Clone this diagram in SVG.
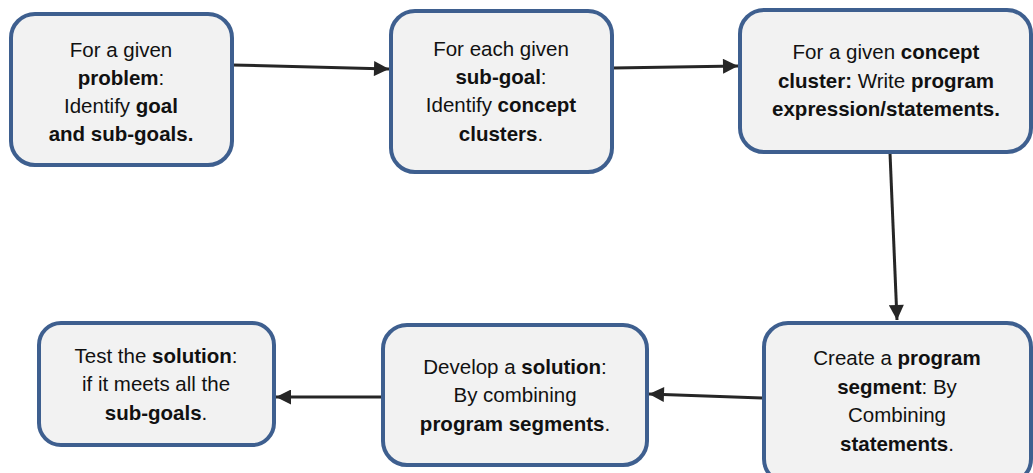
<svg xmlns="http://www.w3.org/2000/svg" width="1033" height="473" viewBox="0 0 1033 473">
<style>
.box{fill:#f2f2f2;stroke:#3e5f8f;stroke-width:4}
.t{font-family:"Liberation Sans",Arial,sans-serif;font-size:20.5px;fill:#111;text-anchor:middle}
.b{font-weight:bold}
.c{stroke:#262626;stroke-width:3;fill:none;marker-end:url(#ah)}
</style>
<defs>
<marker id="ah" viewBox="0 0 10 10" refX="10" refY="5" markerWidth="5.3" markerHeight="5" orient="auto" markerUnits="strokeWidth">
<path d="M0,0 L10,5 L0,10 z" fill="#262626"/>
</marker>
</defs>
<rect width="1033" height="473" fill="#fff"/>
<g id="connectors">
<line class="c" x1="232" y1="65" x2="389" y2="69"/>
<line class="c" x1="613" y1="68" x2="738" y2="66"/>
<line class="c" x1="890" y1="153" x2="897" y2="320"/>
<line class="c" x1="762" y1="398" x2="649" y2="394"/>
<line class="c" x1="381" y1="397" x2="276" y2="397"/>
</g>
<g id="n1">
<rect class="box" x="11" y="14" width="221" height="151" rx="24"/>
<text class="t" x="121" y="57">For a given</text>
<text class="t" x="121" y="85"><tspan class="b">problem</tspan>:</text>
<text class="t" x="121" y="113">Identify <tspan class="b">goal</tspan></text>
<text class="t" x="121" y="141"><tspan class="b">and sub-goals.</tspan></text>
</g>
<g id="n2">
<rect class="box" x="391" y="11" width="221" height="161" rx="24"/>
<text class="t" x="501" y="56">For each given</text>
<text class="t" x="501" y="84"><tspan class="b">sub-goal</tspan>:</text>
<text class="t" x="501" y="112">Identify <tspan class="b">concept</tspan></text>
<text class="t" x="501" y="141"><tspan class="b">clusters</tspan>.</text>
</g>
<g id="n3">
<rect class="box" x="740" y="10" width="291" height="142" rx="24"/>
<text class="t" x="886" y="59">For a given <tspan class="b">concept</tspan></text>
<text class="t" x="886" y="88"><tspan class="b">cluster:</tspan> Write <tspan class="b">program</tspan></text>
<text class="t" x="886" y="116"><tspan class="b">expression/statements.</tspan></text>
</g>
<g id="n4">
<rect class="box" x="764" y="323" width="267" height="160" rx="24"/>
<text class="t" x="897" y="365">Create a <tspan class="b">program</tspan></text>
<text class="t" x="897" y="394"><tspan class="b">segment</tspan>: By</text>
<text class="t" x="897" y="422">Combining</text>
<text class="t" x="897" y="451"><tspan class="b">statements</tspan>.</text>
</g>
<g id="n5">
<rect class="box" x="383" y="325" width="264" height="140" rx="24"/>
<text class="t" x="515" y="374">Develop a <tspan class="b">solution</tspan>:</text>
<text class="t" x="515" y="402">By combining</text>
<text class="t" x="515" y="431"><tspan class="b">program segments</tspan>.</text>
</g>
<g id="n6">
<rect class="box" x="39" y="323" width="235" height="122" rx="22"/>
<text class="t" x="156" y="363">Test the <tspan class="b">solution</tspan>:</text>
<text class="t" x="156" y="391">if it meets all the</text>
<text class="t" x="156" y="420"><tspan class="b">sub-goals</tspan>.</text>
</g>
</svg>
